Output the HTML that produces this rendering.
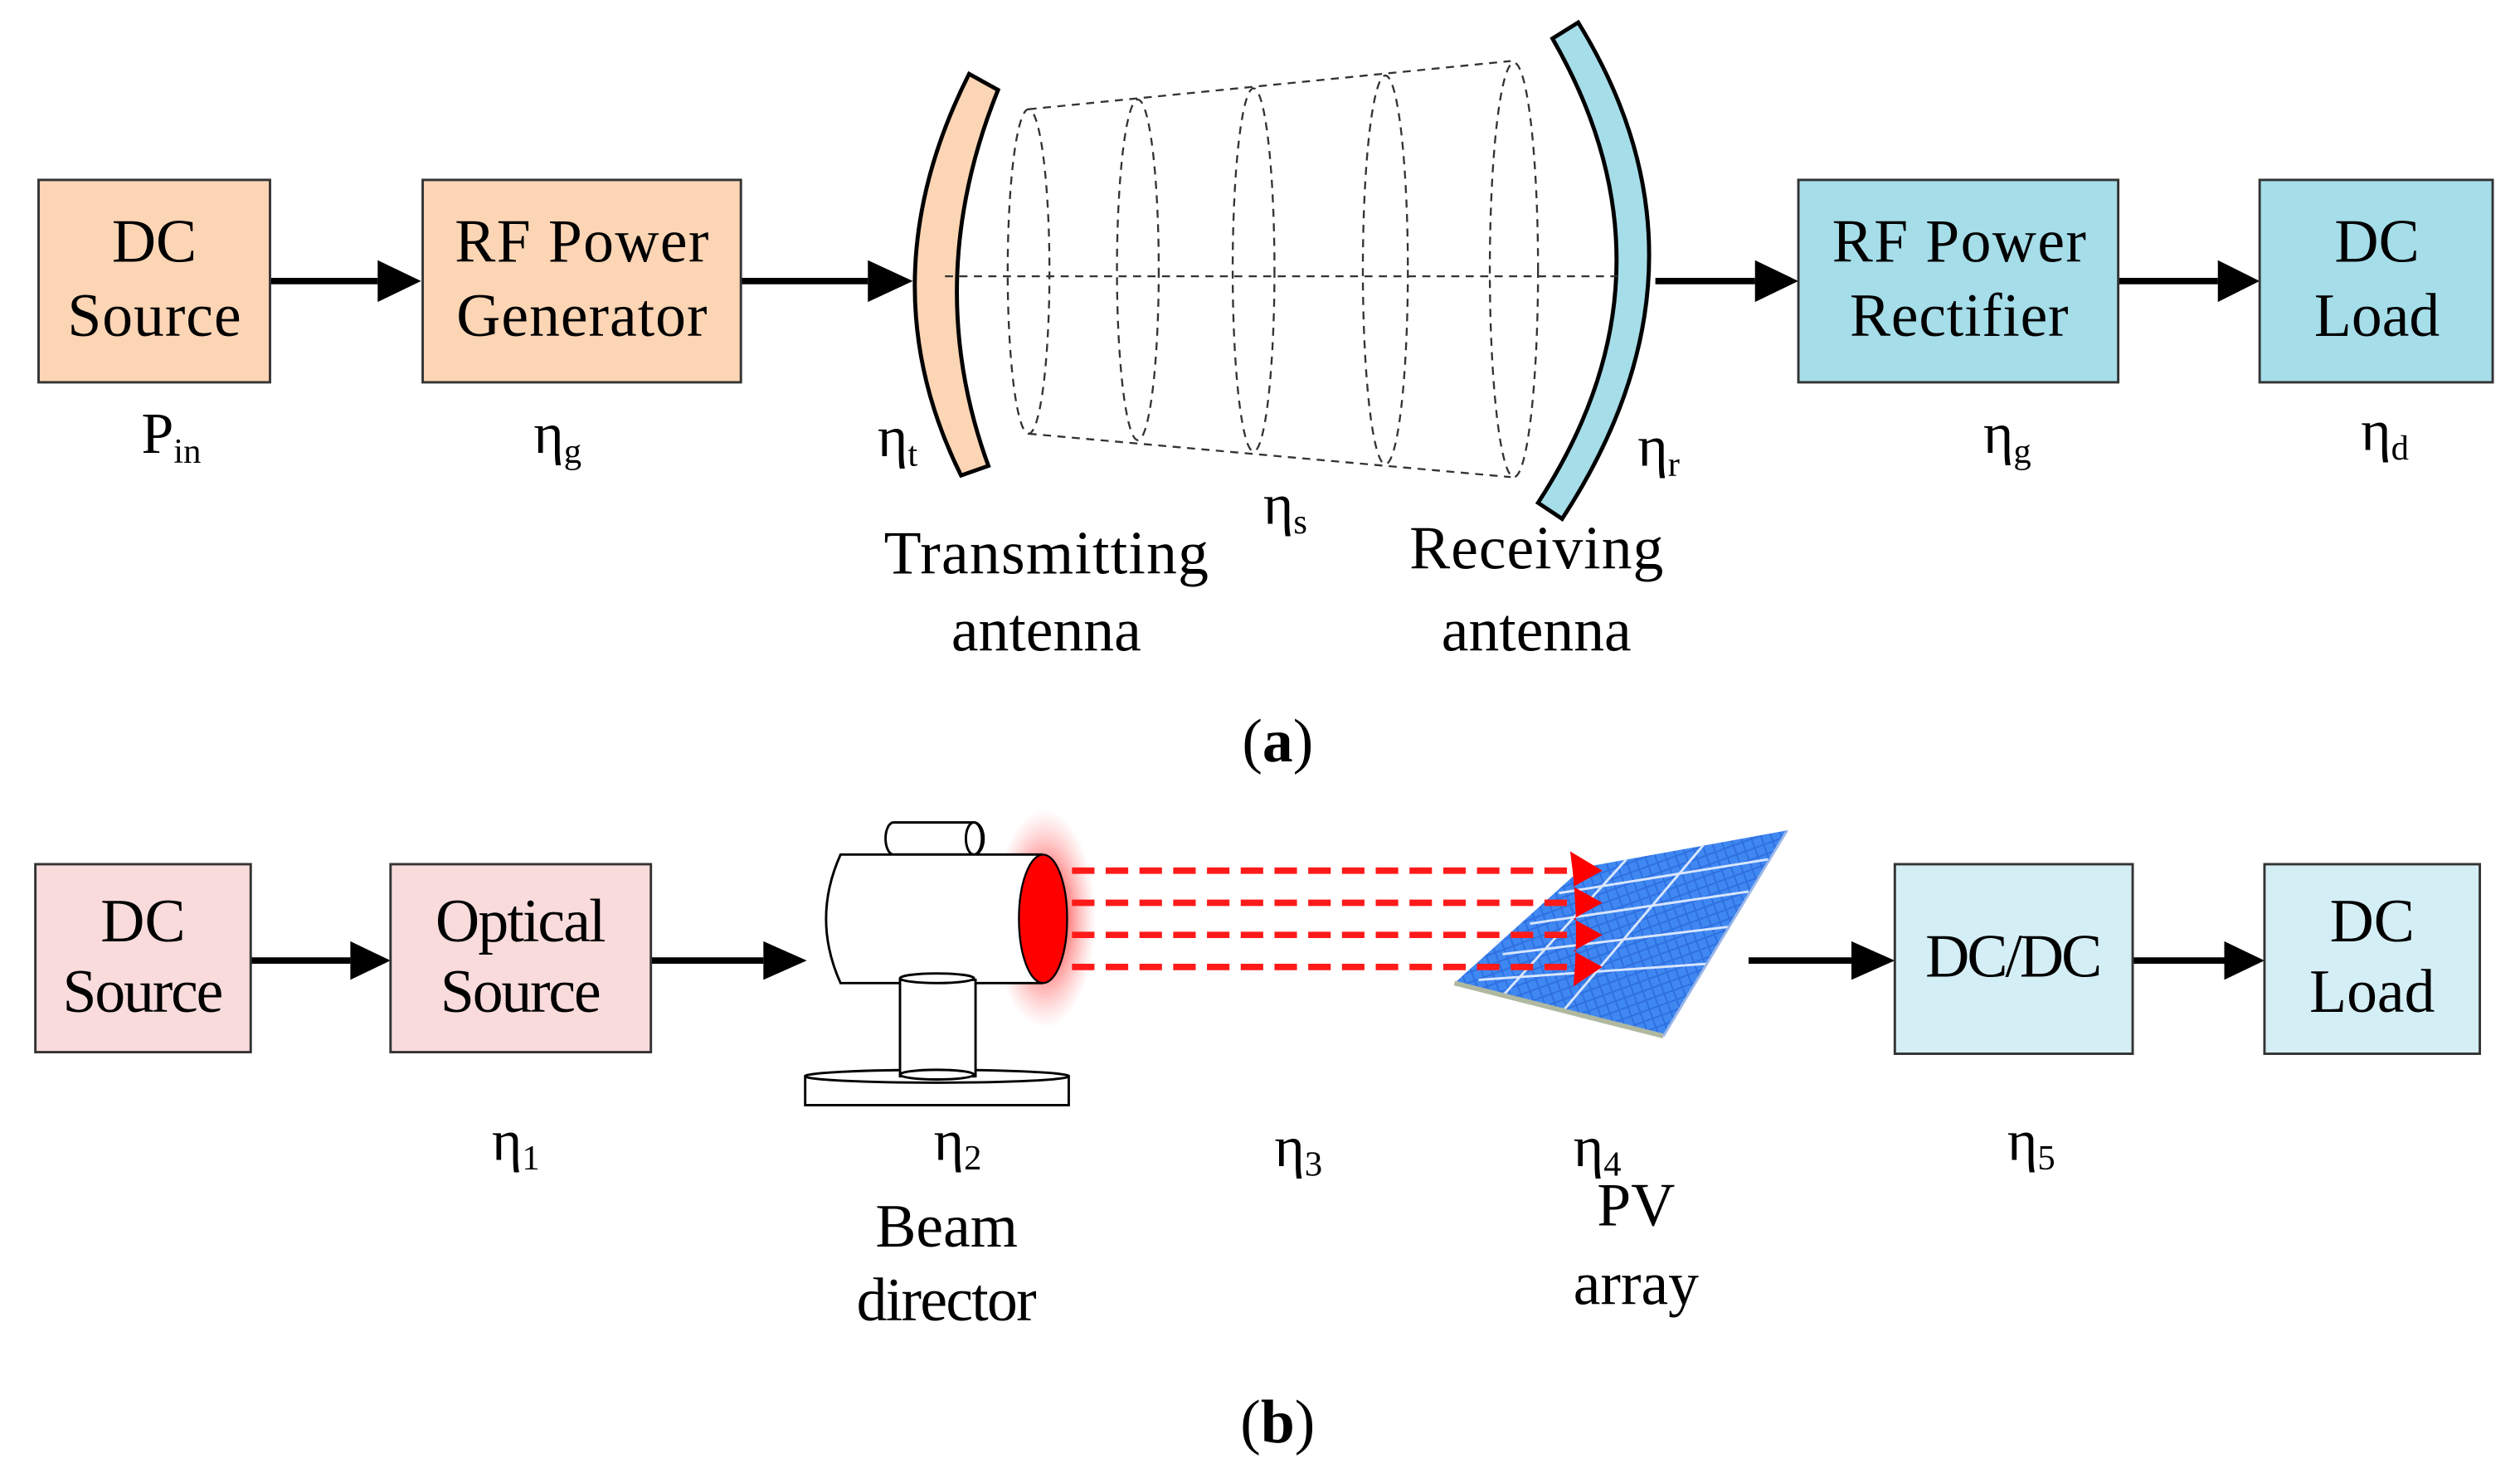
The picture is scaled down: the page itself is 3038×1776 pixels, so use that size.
<!DOCTYPE html>
<html><head><meta charset="utf-8"><style>
html,body{margin:0;padding:0;background:#fff;}
svg{display:block;}
text{font-family:"Liberation Serif",serif;fill:#000;}
</style></head><body>
<svg width="3038" height="1776" viewBox="0 0 1568 917" preserveAspectRatio="none" xmlns="http://www.w3.org/2000/svg">
<defs>
<radialGradient id="glow" cx="0.5" cy="0.5" r="0.5">
<stop offset="0.4" stop-color="#ff3030" stop-opacity="0.7"/>
<stop offset="1" stop-color="#ff8080" stop-opacity="0"/></radialGradient>
<pattern id="cells" width="6" height="6" patternUnits="userSpaceOnUse" patternTransform="rotate(-20)">
<rect width="6" height="6" fill="#2f6fe0"/><rect width="5" height="5" fill="#3f88f2"/></pattern>
</defs>
<g stroke="#000" stroke-width="4" fill="none">
<path d="M168,175 H235"/><path d="M461,175 H540"/><path d="M1030,175 H1092"/><path d="M1318,175 H1380"/>
<path d="M156,598 H218"/><path d="M405,598 H475"/><path d="M1088,598 H1152"/><path d="M1327,598 H1384"/>
</g>
<g fill="#000">
<path d="M235,162 L262,175 L235,188Z"/><path d="M540,162 L568,175 L540,188Z"/>
<path d="M1092,162 L1119,175 L1092,188Z"/><path d="M1380,162 L1406,175 L1380,188Z"/>
<path d="M218,586 L243,598 L218,610Z"/><path d="M475,586 L502,598 L475,610Z"/>
<path d="M1152,586 L1179,598 L1152,610Z"/><path d="M1384,586 L1409,598 L1384,610Z"/>
</g>
<g stroke="#333" stroke-width="1.5">
<rect x="24" y="112" width="144" height="126" fill="#fcd5b5"/>
<rect x="263" y="112" width="198" height="126" fill="#fcd5b5"/>
<rect x="1119" y="112" width="199" height="126" fill="#a5dde9"/>
<rect x="1406" y="112" width="145" height="126" fill="#a5dde9"/>
<rect x="22" y="538" width="134" height="117" fill="#f9dbdb"/>
<rect x="243" y="538" width="162" height="117" fill="#f9dbdb"/>
<rect x="1179" y="538" width="148" height="118" fill="#d4eef5"/>
<rect x="1409" y="538" width="134" height="118" fill="#d4eef5"/>
</g>
<g font-size="38" text-anchor="middle">
<text x="96" y="163">DC</text><text x="96" y="209" textLength="108">Source</text>
<text x="362" y="163" textLength="158">RF Power</text><text x="362" y="209" textLength="156">Generator</text>
<text x="1219" y="163" textLength="158">RF Power</text><text x="1219" y="209" textLength="136">Rectifier</text>
<text x="1479" y="163">DC</text><text x="1479" y="209">Load</text>
<text x="89" y="586">DC</text><text x="89" y="630" textLength="100">Source</text>
<text x="324" y="586" textLength="106">Optical</text><text x="324" y="630" textLength="100">Source</text>
<text x="1253" y="608" textLength="110">DC/DC</text>
<text x="1476" y="586">DC</text><text x="1476" y="630">Load</text>
<text x="651" y="357" textLength="202">Transmitting</text><text x="651" y="405">antenna</text>
<text x="956" y="354" textLength="158">Receiving</text><text x="956" y="405">antenna</text>
<text x="589" y="776">Beam</text><text x="589" y="822" textLength="112">director</text>
<text x="1018" y="763">PV</text><text x="1018" y="812">array</text>
<text x="795" y="474">(<tspan font-weight="bold">a</tspan>)</text>
<text x="795" y="898">(<tspan font-weight="bold">b</tspan>)</text>
</g>
<g font-size="36">
<text x="88" y="282">P<tspan font-size="22" dy="6">in</tspan></text>
<text x="332" y="282">η<tspan font-size="22" dy="6">g</tspan></text>
<text x="546" y="284">η<tspan font-size="22" dy="6">t</tspan></text>
<text x="786" y="326">η<tspan font-size="22" dy="6">s</tspan></text>
<text x="1019" y="290">η<tspan font-size="22" dy="6">r</tspan></text>
<text x="1234" y="282">η<tspan font-size="22" dy="6">g</tspan></text>
<text x="1469" y="280">η<tspan font-size="22" dy="6">d</tspan></text>
<text x="306" y="722">η<tspan font-size="22" dy="6">1</tspan></text>
<text x="581" y="722">η<tspan font-size="22" dy="6">2</tspan></text>
<text x="793" y="726">η<tspan font-size="22" dy="6">3</tspan></text>
<text x="979" y="726">η<tspan font-size="22" dy="6">4</tspan></text>
<text x="1249" y="722">η<tspan font-size="22" dy="6">5</tspan></text>
</g>
<path d="M603,46 L621,56 Q573,175 615,290 L598,296 Q538,175 603,46Z" fill="#fcd5b5" stroke="#000" stroke-width="2.5"/>
<path d="M966,24 L982,14 Q1075,165 972,323 L957,313 Q1050,170 966,24Z" fill="#a5dde9" stroke="#000" stroke-width="2.5"/>
<g stroke="#333" stroke-width="1.2" fill="none" stroke-dasharray="5,4">
<path d="M640,68 L940,38"/><path d="M640,270 L940,297"/>
<path d="M588,172 H1010"/>
<ellipse cx="640" cy="169" rx="13" ry="101"/>
<ellipse cx="708" cy="168" rx="13" ry="106"/>
<ellipse cx="780" cy="168" rx="13" ry="113"/>
<ellipse cx="862" cy="168" rx="14" ry="121"/>
<ellipse cx="942" cy="168" rx="15" ry="129"/>
</g>
<ellipse cx="650" cy="572" rx="32" ry="68" fill="url(#glow)"/>
<g stroke="#000" stroke-width="1.5" fill="#fff">
<path d="M556,512 H606 A6,10 0 0 1 606,532 H556 A5,10 0 0 1 556,512Z"/>
<ellipse cx="606" cy="522" rx="5" ry="10"/>
<path d="M523,532 H648 V612 H523 Q505,572 523,532Z"/>
<rect x="501" y="670" width="164" height="18"/>
<ellipse cx="583" cy="670" rx="82" ry="4"/>
<path d="M560,610 H607 V670 H560Z"/>
<ellipse cx="583" cy="609" rx="23" ry="3"/>
<ellipse cx="583" cy="669" rx="23" ry="3"/>
</g>
<ellipse cx="649" cy="572" rx="15" ry="40" fill="#ff0000" stroke="#000" stroke-width="1.2"/>
<polygon points="985,540 1112,517 1035,645 905,612" fill="url(#cells)"/>
<g stroke="#d8e6ff" stroke-width="1.5" fill="none">
<path d="M1012,535 L935,620"/><path d="M1060,526 L972,630"/>
<path d="M970,556 L1100,535"/><path d="M952,575 L1088,555"/><path d="M935,594 L1075,577"/><path d="M920,610 L1062,600"/>
</g>
<path d="M905,612 L1035,645" stroke="#b0b8a0" stroke-width="3"/>
<path d="M1035,645 L1112,517" stroke="#9bb6e8" stroke-width="1.5"/>
<g stroke="#ff1a1a" stroke-width="4" stroke-dasharray="14,7" fill="none">
<path d="M667,542 H975"/><path d="M667,562 H975"/><path d="M667,582 H975"/><path d="M667,602 H975"/>
</g>
<path d="M977,530 L997,542 L979,552 L997,562 L979,572 L997,582 L979,592 L997,602 L979,614 Q983,572 977,530Z" fill="#ff0000"/>
</svg>
</body></html>
